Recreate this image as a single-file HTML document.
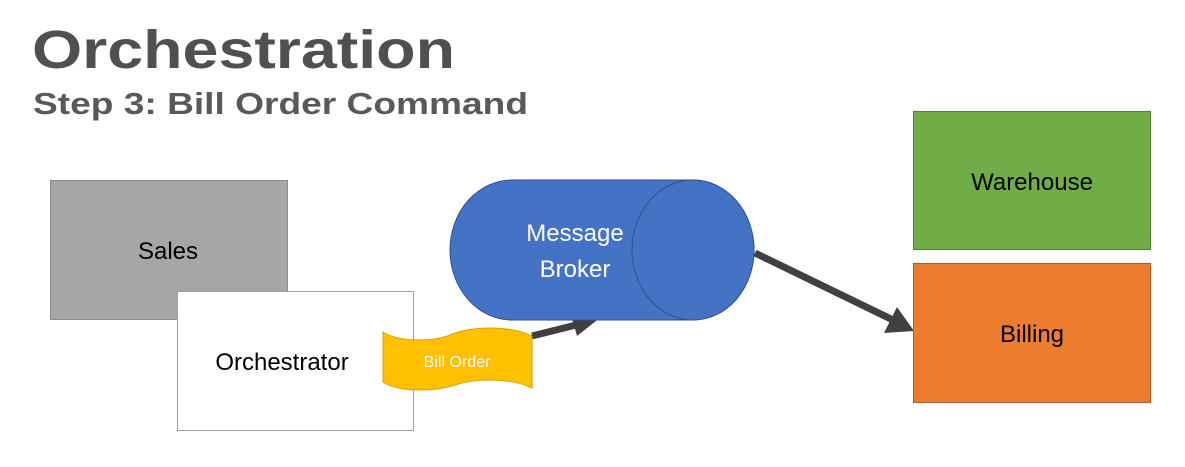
<!DOCTYPE html>
<html><head><style>
body{margin:0;width:1185px;height:462px;background:#fff;overflow:hidden;font-family:"Liberation Sans",sans-serif;}
</style></head><body>
<svg width="1185" height="462" viewBox="0 0 1185 462" xmlns="http://www.w3.org/2000/svg">
<text x="32" y="68" font-family="Liberation Sans, sans-serif" font-weight="bold" font-size="54" fill="#505050" textLength="423" lengthAdjust="spacingAndGlyphs">Orchestration</text>
<text x="33" y="114" font-family="Liberation Sans, sans-serif" font-weight="bold" font-size="31" fill="#595959" textLength="495" lengthAdjust="spacingAndGlyphs">Step 3: Bill Order Command</text>
<rect x="50.5" y="180.5" width="237" height="139" fill="#a6a6a6" stroke="#8c8c8c"/>
<text x="168" y="259" text-anchor="middle" font-size="24" fill="#000">Sales</text>
<rect x="177.5" y="291.5" width="236" height="139" fill="#fff" stroke="#a0a0a0"/>
<text x="282" y="370" text-anchor="middle" font-size="24" fill="#000">Orchestrator</text>
<path d="M383 332 Q395 340 420 340 Q440 340 455 333 Q470 328 490 328 Q515 328 532 336 L532 388 Q515 380 490 380 Q470 380 455 385 Q440 390 420 390 Q395 390 383 382 Z" fill="#ffc000" stroke="#d9a400"/>
<text x="457" y="367" text-anchor="middle" font-size="16" fill="#fff">Bill Order</text>
<line x1="532" y1="336" x2="580" y2="324" stroke="#404040" stroke-width="7"/>
<polygon points="601,317 570,311 577,336" fill="#404040"/>
<path d="M512 180 L693 180 A61 70 0 0 1 693 320 L512 320 A62 70 0 0 1 512 180 Z" fill="#4472c4" stroke="#2f528f"/>
<ellipse cx="693" cy="250" rx="61" ry="70" fill="#4472c4" stroke="#2f528f"/>
<text x="575" y="241" text-anchor="middle" font-size="24" fill="#fff">Message</text>
<text x="575" y="277" text-anchor="middle" font-size="24" fill="#fff">Broker</text>
<line x1="755" y1="253" x2="895" y2="321" stroke="#404040" stroke-width="7"/>
<polygon points="914,331 884,333 897,307" fill="#404040"/>
<rect x="913.5" y="111.5" width="237" height="138" fill="#70ad47" stroke="#507e32"/>
<text x="1032" y="190" text-anchor="middle" font-size="24" fill="#000">Warehouse</text>
<rect x="913.5" y="263.5" width="237" height="139" fill="#ed7d31" stroke="#ae5a21"/>
<text x="1032" y="342" text-anchor="middle" font-size="24" fill="#000">Billing</text>
</svg>
</body></html>
